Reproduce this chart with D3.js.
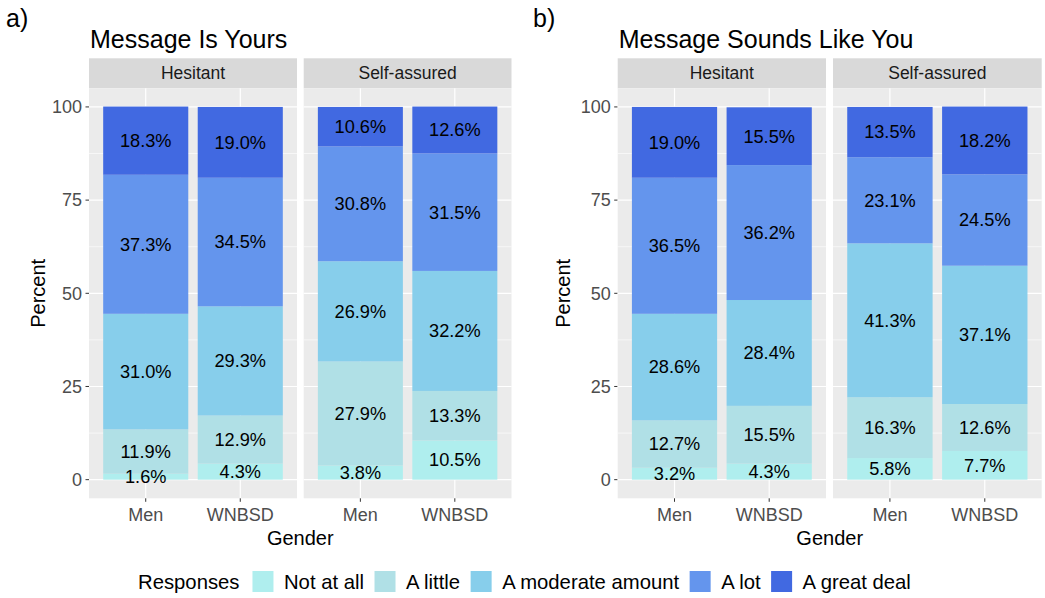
<!DOCTYPE html>
<html><head><meta charset="utf-8">
<script src="https://cdn.jsdelivr.net/npm/d3@7"></script>
<style>body{margin:0;background:#fff}svg{display:block;font-family:"Liberation Sans",Arial,sans-serif}</style>
</head><body><svg id="c" width="1045" height="598"></svg>
<script>
// ---- data ----
const responses = ["Not at all","A little","A moderate amount","A lot","A great deal"];
const genders = ["Men","WNBSD"];
const facets = ["Hesitant","Self-assured"];
const yTicks = [0,25,50,75,100];
const panelTags = ["a)","b)"];
const panelTitles = ["Message Is Yours","Message Sounds Like You"];
// values per gender in response order (Not at all .. A great deal)
const yoursHesitantMen   = [1.6, 11.9, 31.0, 37.3, 18.3];
const yoursHesitantWnbsd = [4.3, 12.9, 29.3, 34.5, 19.0];
const yoursSelfMen       = [3.8, 27.9, 26.9, 30.8, 10.6];
const yoursSelfWnbsd     = [10.5, 13.3, 32.2, 31.5, 12.6];
const soundsHesitantMen   = [3.2, 12.7, 28.6, 36.5, 19.0];
const soundsHesitantWnbsd = [4.3, 15.5, 28.4, 36.2, 15.5];
const soundsSelfMen       = [5.8, 16.3, 41.3, 23.1, 13.5];
const soundsSelfWnbsd     = [7.7, 12.6, 37.1, 24.5, 18.2];

const chartData = [
  [[yoursHesitantMen, yoursHesitantWnbsd],[yoursSelfMen, yoursSelfWnbsd]],
  [[soundsHesitantMen, soundsHesitantWnbsd],[soundsSelfMen, soundsSelfWnbsd]]
];

// ---- styling ----
const colors = ["#AFEEEE","#B0E0E6","#87CEEB","#6495ED","#4169E1"];
const color = d3.scaleOrdinal().domain(responses).range(colors);
const svg = d3.select("#c");

const stripTop = 58.3, stripBot = 88.3, panelBot = 498.3;
const y = d3.scaleLinear().domain([-5,105]).range([panelBot, stripBot]);
const layouts = [
  {tagX:6, panels:[[89,297],[303.7,511.5]], ylabX:38},
  {tagX:533, panels:[[617.7,826],[833,1041.7]], ylabX:563}
];

layouts.forEach((L, ci) => {
  const g = svg.append("g");
  g.append("text").attr("x", L.tagX).attr("y", 27).attr("font-size", 25).attr("fill","#000").text(panelTags[ci]);
  g.append("text").attr("x", L.panels[0][0]+1).attr("y", 48).attr("font-size", 25).attr("fill","#000").text(panelTitles[ci]);

  // y axis
  const left = L.panels[0][0];
  yTicks.forEach(t => {
    g.append("line").attr("x1", left-3.5).attr("x2", left).attr("y1", y(t)).attr("y2", y(t)).attr("stroke","#333").attr("stroke-width",1);
    g.append("text").attr("x", left-7).attr("y", y(t)).attr("dy","0.35em").attr("text-anchor","end")
      .attr("font-size", 18).attr("fill","#4D4D4D").text(t);
  });
  g.append("text").attr("transform", `translate(${L.ylabX},${(stripBot+panelBot)/2}) rotate(-90)`)
    .attr("text-anchor","middle").attr("dy","0.35em").attr("font-size",20).attr("fill","#000").text("Percent");

  L.panels.forEach((p, fi) => {
    const [x0, x1] = p;
    const pg = g.append("g");
    pg.append("rect").attr("x", x0).attr("y", stripTop).attr("width", x1-x0).attr("height", stripBot-stripTop).attr("fill","#D9D9D9");
    pg.append("text").attr("x",(x0+x1)/2).attr("y",(stripTop+stripBot)/2).attr("dy","0.35em").attr("text-anchor","middle")
      .attr("font-size",17.5).attr("fill","#1A1A1A").text(facets[fi]);
    pg.append("rect").attr("x", x0).attr("y", stripBot).attr("width", x1-x0).attr("height", panelBot-stripBot).attr("fill","#EBEBEB");
    const x = d3.scalePoint().domain(genders).range([x0,x1]).padding(0.6);
    const bw = x.step()*0.9;
    // minor grid
    [12.5,37.5,62.5,87.5].forEach(t => pg.append("line").attr("x1",x0).attr("x2",x1).attr("y1",y(t)).attr("y2",y(t)).attr("stroke","#fff").attr("stroke-width",0.6));
    yTicks.forEach(t => pg.append("line").attr("x1",x0).attr("x2",x1).attr("y1",y(t)).attr("y2",y(t)).attr("stroke","#fff").attr("stroke-width",1.2));
    genders.forEach(gd => pg.append("line").attr("x1",x(gd)).attr("x2",x(gd)).attr("y1",stripBot).attr("y2",panelBot).attr("stroke","#fff").attr("stroke-width",1.2));

    genders.forEach((gd, gi) => {
      const vals = chartData[ci][fi][gi];
      let cum = 0;
      const segs = vals.map((v, ri) => { const s = {r:responses[ri], lo:cum, hi:cum+v, v}; cum += v; return s; });
      pg.selectAll(null).data(segs).enter().append("rect")
        .attr("x", x(gd)-bw/2).attr("width", bw)
        .attr("y", d => y(d.hi)).attr("height", d => y(d.lo)-y(d.hi))
        .attr("fill", d => color(d.r));
      pg.selectAll(null).data(segs).enter().append("text")
        .attr("x", x(gd)).attr("y", d => y((d.lo+d.hi)/2)).attr("dy","0.35em").attr("text-anchor","middle")
        .attr("font-size",18.2).attr("fill","#000").text(d => d.v.toFixed(1)+"%");
      // x tick
      pg.append("line").attr("x1",x(gd)).attr("x2",x(gd)).attr("y1",panelBot).attr("y2",panelBot+3.5).attr("stroke","#333");
      pg.append("text").attr("x",x(gd)).attr("y",panelBot+16.5).attr("dy","0.35em").attr("text-anchor","middle")
        .attr("font-size",18).attr("fill","#4D4D4D").text(gd);
    });
  });
  g.append("text").attr("x",(L.panels[0][0]+L.panels[1][1])/2).attr("y",537.5).attr("dy","0.35em").attr("text-anchor","middle")
    .attr("font-size",20).attr("fill","#000").text("Gender");
});

// legend
const lg = svg.append("g");
let lx = 138; const ly = 581.5;
const lt = lg.append("text").attr("x",lx).attr("y",ly).attr("dy","0.35em").attr("font-size",20.3).attr("fill","#000").text("Responses");
lx += lt.node().getComputedTextLength() + 13;
responses.forEach(r => {
  lg.append("rect").attr("x",lx).attr("y",ly-10.5).attr("width",21).attr("height",21).attr("fill",color(r));
  lx += 21 + 10.5;
  const t = lg.append("text").attr("x",lx).attr("y",ly).attr("dy","0.35em").attr("font-size",20.3).attr("fill","#000").text(r);
  lx += t.node().getComputedTextLength() + 10.5;
});
</script></body></html>
